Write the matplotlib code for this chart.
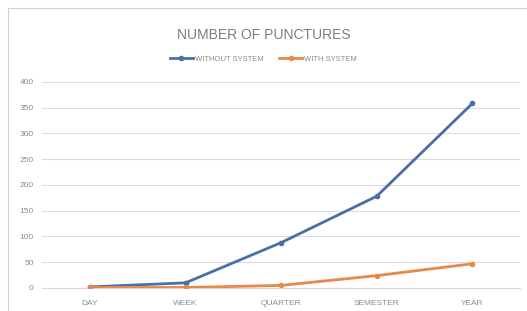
import matplotlib
matplotlib.use("Agg")
import matplotlib.pyplot as plt
from matplotlib.lines import Line2D

periods = ["DAY", "WEEK", "QUARTER", "SEMESTER", "YEAR"]
without_system = [2, 10, 88, 178, 358]
with_system = [1, 1, 5, 24, 47]
yticks = [0, 50, 100, 150, 200, 250, 300, 350, 400]

blue = "#4a6ea8"
orange = "#e8894a"
txt = "#8c8c8c"

plt.rcParams["font.family"] = ["Liberation Sans", "DejaVu Sans"]

fig = plt.figure(figsize=(5.27, 3.11), dpi=100)
ax = fig.add_axes([0.08, 0.074, 0.907, 0.663])

x = list(range(len(periods)))
ax.plot(x, without_system, color=blue, lw=2, marker="o", ms=3, label="WITHOUT SYSTEM", zorder=3)
ax.plot(x, with_system, color=orange, lw=2, marker="o", ms=3, label="WITH SYSTEM", zorder=3)

ax.set_xlim(-0.5, len(periods) - 0.5)
ax.set_ylim(0, 400)
ax.set_yticks(yticks)
ax.set_yticklabels([str(v) for v in yticks])
ax.set_xticks(x)
ax.set_xticklabels(periods)
ax.tick_params(axis="both", length=0, labelsize=6, colors=txt)
ax.tick_params(axis="y", pad=6)
ax.tick_params(axis="x", pad=9)
ax.grid(axis="y", color="#dcdcdc", lw=0.8)
ax.set_axisbelow(True)
for s in ["top", "right", "left"]:
    ax.spines[s].set_visible(False)
ax.spines["bottom"].set_color("#d9d9d9")

fig.text(0.5, 0.888, "NUMBER OF PUNCTURES", ha="center", va="center", fontsize=10, color="#7f7f7f")
fig.legend(loc="center", bbox_to_anchor=(0.5, 0.81), ncol=2, frameon=False, fontsize=5.5,
           labelcolor=txt, handlelength=3, columnspacing=2, handletextpad=0.3)

# chart frame (left and top edges visible)
fig.add_artist(Line2D([8 / 527, 8 / 527], [0, 1 - 8 / 311], transform=fig.transFigure, color="#d0d0d0", lw=0.8))
fig.add_artist(Line2D([8 / 527, 1], [1 - 8 / 311, 1 - 8 / 311], transform=fig.transFigure, color="#d0d0d0", lw=0.8))

fig.savefig("out.png", dpi=100)
